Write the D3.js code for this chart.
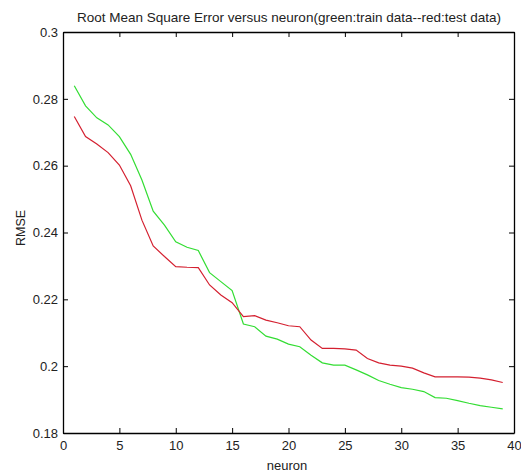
<!DOCTYPE html>
<html><head><meta charset="utf-8">
<script src="https://cdn.jsdelivr.net/npm/d3@7"></script>
<style>body{margin:0;background:#fff}svg{display:block}text{font-family:"Liberation Sans",Arial,sans-serif;fill:#222}</style>
</head><body><svg id="c" width="521" height="473"></svg>
<script>
const neurons = d3.range(1, 40);
const trainRMSE = [0.2839,0.2779,0.2743,0.2722,0.2687,0.2634,0.2557,0.2464,0.2422,0.2372,0.2356,0.2346,0.2280,0.2253,0.2226,0.2126,0.2118,0.2090,0.2081,0.2066,0.2058,0.2033,0.2010,0.2003,0.2003,0.1989,0.1974,0.1957,0.1946,0.1936,0.1931,0.1924,0.1906,0.1904,0.1897,0.1889,0.1882,0.1877,0.1872];
const testRMSE = [0.2747,0.2687,0.2665,0.2639,0.2602,0.2540,0.2437,0.2360,0.2328,0.2298,0.2296,0.2295,0.2243,0.2213,0.2190,0.2148,0.2151,0.2138,0.2130,0.2121,0.2118,0.2078,0.2053,0.2053,0.2052,0.2048,0.2023,0.2010,0.2003,0.2000,0.1994,0.1980,0.1968,0.1968,0.1968,0.1967,0.1964,0.1959,0.1951];
const xTicks = [0,5,10,15,20,25,30,35,40];
const yTicks = [0.18,0.2,0.22,0.24,0.26,0.28,0.3];
const yTickLabels = ["0.18","0.2","0.22","0.24","0.26","0.28","0.3"];

const L=63,R=514,T=32,B=433;
const svg=d3.select("#c");
const x=d3.scaleLinear().domain([0,40]).range([L,R]);
const y=d3.scaleLinear().domain([0.18,0.3]).range([B,T]);

svg.append("rect").attr("x",L).attr("y",T).attr("width",R-L).attr("height",B-T).attr("fill","#fff");

const line=(vals)=>d3.line().x((d,i)=>x(neurons[i])).y(d=>y(d))(vals);
svg.append("path").attr("d",line(trainRMSE)).attr("fill","none").attr("stroke","#33dd33").attr("stroke-width",1.2);
svg.append("path").attr("d",line(testRMSE)).attr("fill","none").attr("stroke","#d42030").attr("stroke-width",1.2);

const fmtY=(d)=>yTickLabels[yTicks.indexOf(d)];
const axB=svg.append("g").attr("transform",`translate(0,${B})`).call(d3.axisBottom(x).tickValues(xTicks).tickSizeInner(-5).tickSizeOuter(0).tickPadding(8));
const axT=svg.append("g").attr("transform",`translate(0,${T})`).call(d3.axisTop(x).tickValues(xTicks).tickSizeInner(-5).tickSizeOuter(0).tickFormat(""));
const axL=svg.append("g").attr("transform",`translate(${L},0)`).call(d3.axisLeft(y).tickValues(yTicks).tickSizeInner(-5).tickSizeOuter(0).tickPadding(5).tickFormat(fmtY));
const axR=svg.append("g").attr("transform",`translate(${R},0)`).call(d3.axisRight(y).tickValues(yTicks).tickSizeInner(-5).tickSizeOuter(0).tickFormat(""));
[axB,axT,axL,axR].forEach(g=>{g.selectAll("path.domain").attr("stroke","#000").attr("stroke-width",1.3);g.selectAll("line").attr("stroke","#000");g.selectAll("text").attr("font-size",13).attr("fill","#222").attr("font-family",'"Liberation Sans",Arial,sans-serif');});

svg.append("text").attr("x",289).attr("y",22).attr("text-anchor","middle").attr("font-size",13.5).text("Root Mean Square Error versus neuron(green:train data--red:test data)");
svg.append("text").attr("x",287).attr("y",470).attr("text-anchor","middle").attr("font-size",13).text("neuron");
svg.append("text").attr("transform","translate(25,228) rotate(-90)").attr("text-anchor","middle").attr("font-size",12.5).text("RMSE");
</script></body></html>
